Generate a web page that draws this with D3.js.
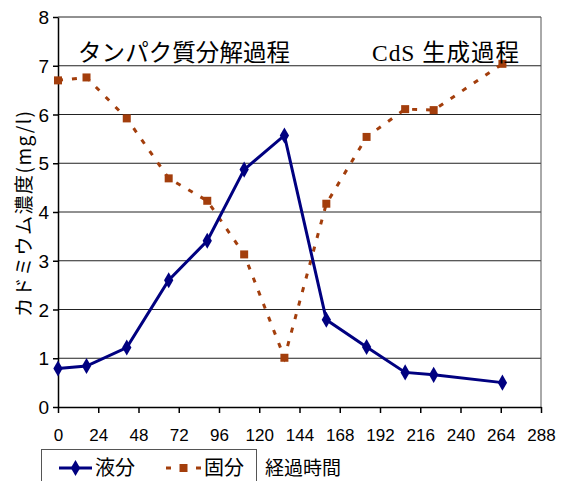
<!DOCTYPE html>
<html>
<head>
<meta charset="utf-8">
<script src="https://cdn.jsdelivr.net/npm/d3@7"></script>
<style>
  body { margin: 0; background: #fff; }
  svg { display: block; font-family: "Liberation Sans", Arial, sans-serif; }
</style>
</head>
<body>
<div id="chart"></div>
<script>
(function () {
    'use strict';

    // elapsed hours for each sample
    var hours = [0, 17, 41, 66, 89, 111, 135, 160, 184, 207, 224, 265];
    // 液分 (liquid) and 固分 (solid) cadmium, mg/l
    var liquid = [0.79, 0.84, 1.22, 2.60, 3.41, 4.87, 5.57, 1.79, 1.23, 0.71, 0.66, 0.50];
    var solid = [6.70, 6.76, 5.92, 4.69, 4.23, 3.13, 1.01, 4.17, 5.54, 6.11, 6.09, 7.04];
    var xTicks = [0, 24, 48, 72, 96, 120, 144, 168, 192, 216, 240, 264, 288];
    var yTicks = [0, 1, 2, 3, 4, 5, 6, 7, 8];

    var width = 566, height = 481;
    var left = 58, right = 541, top = 17, bottom = 407;
    var navy = '#000080';
    var rust = '#A33E0C';
    var cjk = '"Noto Sans CJK JP", sans-serif';

    var svg = d3.select('#chart').append('svg')
        .attr('width', width)
        .attr('height', height);

    var x = d3.scaleLinear().domain([0, 288]).range([left, right]);
    var y = d3.scaleLinear().domain([0, 8]).range([bottom, top]);

    // gridlines
    svg.append('g')
        .selectAll('line')
        .data(yTicks.slice(1))
        .enter().append('line')
        .attr('x1', left).attr('x2', right)
        .attr('y1', function (d) { return y(d); })
        .attr('y2', function (d) { return y(d); })
        .style('stroke', '#222')
        .style('stroke-width', 1);

    // right border
    svg.append('line')
        .attr('x1', right).attr('x2', right)
        .attr('y1', top).attr('y2', bottom)
        .style('stroke', '#555')
        .style('stroke-width', 1);

    var yAxis = svg.append('g')
        .attr('transform', 'translate(' + left + ',0)')
        .call(d3.axisLeft(y).tickValues(yTicks).tickSize(5).tickSizeOuter(0).tickPadding(4));
    yAxis.selectAll('text').style('font-size', '19px').attr('dy', '0.35em');

    var xAxis = svg.append('g')
        .attr('transform', 'translate(0,' + bottom + ')')
        .call(d3.axisBottom(x).tickValues(xTicks).tickSize(6).tickSizeOuter(0).tickPadding(16));
    xAxis.selectAll('text').style('font-size', '17px');

    svg.selectAll('.domain, .tick line')
        .style('stroke', '#000')
        .style('stroke-width', 1.5);
    svg.selectAll('.tick text').style('fill', '#000');

    var line = d3.line()
        .x(function (d) { return x(d[0]); })
        .y(function (d) { return y(d[1]); });

    var solidPts = d3.zip(hours, solid);
    var liquidPts = d3.zip(hours, liquid);

    // 固分 dashed series
    svg.append('path')
        .datum(solidPts)
        .attr('d', line)
        .style('fill', 'none')
        .style('stroke', rust)
        .style('stroke-width', 3)
        .style('stroke-dasharray', '5,9');

    svg.append('g')
        .selectAll('rect')
        .data(solidPts)
        .enter().append('rect')
        .attr('x', function (d) { return x(d[0]) - 4; })
        .attr('y', function (d) { return y(d[1]) - 4; })
        .attr('width', 8)
        .attr('height', 8)
        .style('fill', rust);

    // 液分 solid series
    svg.append('path')
        .datum(liquidPts)
        .attr('d', line)
        .style('fill', 'none')
        .style('stroke', navy)
        .style('stroke-width', 3);

    var diamond = d3.symbol().type(d3.symbolDiamond).size(75);
    svg.append('g')
        .selectAll('path')
        .data(liquidPts)
        .enter().append('path')
        .attr('d', diamond)
        .attr('transform', function (d) { return 'translate(' + x(d[0]) + ',' + y(d[1]) + ')'; })
        .style('fill', navy);

    // process annotations
    svg.append('text')
        .attr('x', 78).attr('y', 61)
        .attr('textLength', 212)
        .style('font-size', '23.5px')
        .style('font-family', cjk)
        .text('タンパク質分解過程');

    svg.append('text')
        .attr('x', 372).attr('y', 61)
        .attr('textLength', 147)
        .style('font-size', '23.5px')
        .style('font-family', '"Liberation Serif", "Noto Sans CJK JP", serif')
        .text('CdS 生成過程');

    // y axis title
    svg.append('text')
        .attr('transform', 'translate(31,214) rotate(-90)')
        .attr('text-anchor', 'middle')
        .attr('textLength', 206)
        .style('font-size', '19px')
        .style('font-family', cjk)
        .text('カドミウム濃度(mg/l)');

    // legend
    svg.append('rect')
        .attr('x', 41.5).attr('y', 449.5)
        .attr('width', 215).attr('height', 40)
        .style('fill', '#fff')
        .style('stroke', '#555')
        .style('stroke-width', 1);

    svg.append('line')
        .attr('x1', 59).attr('x2', 92)
        .attr('y1', 468).attr('y2', 468)
        .style('stroke', navy)
        .style('stroke-width', 3);
    svg.append('path')
        .attr('d', diamond)
        .attr('transform', 'translate(75.5,468)')
        .style('fill', navy);
    svg.append('text')
        .attr('x', 95).attr('y', 475)
        .style('font-size', '20px')
        .style('font-family', cjk)
        .text('液分');

    svg.append('line')
        .attr('x1', 166).attr('x2', 201)
        .attr('y1', 468).attr('y2', 468)
        .style('stroke', rust)
        .style('stroke-width', 3)
        .style('stroke-dasharray', '5,10');
    svg.append('rect')
        .attr('x', 179.5).attr('y', 464)
        .attr('width', 8).attr('height', 8)
        .style('fill', rust);
    svg.append('text')
        .attr('x', 204).attr('y', 475)
        .style('font-size', '20px')
        .style('font-family', cjk)
        .text('固分');

    // x axis title
    svg.append('text')
        .attr('x', 265).attr('y', 475)
        .style('font-size', '19px')
        .style('font-family', cjk)
        .text('経過時間');
})();
</script>
</body>
</html>
